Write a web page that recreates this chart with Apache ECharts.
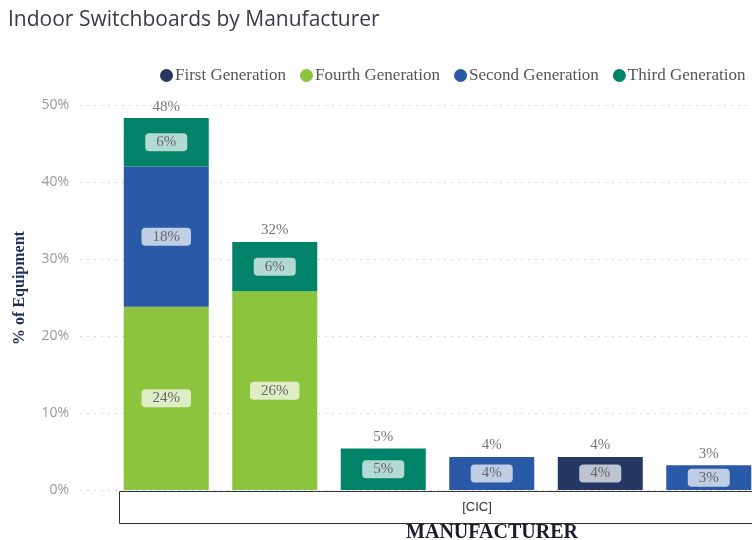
<!DOCTYPE html>
<html>
<head>
<meta charset="utf-8">
<script src="https://cdn.jsdelivr.net/npm/echarts@6/dist/echarts.min.js"></script>
<style>
  html, body { margin: 0; padding: 0; background: #fff; }
  #chart { width: 752px; height: 540px; }
</style>
</head>
<body>
<div id="chart"></div>
<script>
// manufacturers (names hidden in the original, all grouped under [CIC])
const categories = ['M1', 'M2', 'M3', 'M4', 'M5', 'M6'];
const firstGen  = [null, null, null, null, 4.3, null];
const fourthGen = [23.8, 25.8, null, null, null, null];
const secondGen = [18.2, null, null, 4.3, null, 3.2];
const thirdGen  = [6.3, 6.4, 5.4, null, null, null];
const totals    = [48, 32, 5, 4, 4, 3];
const yTicks    = [0, 10, 20, 30, 40, 50];

const colors = {
  first: '#253864',
  fourth: '#8cc43e',
  second: '#2a5aa7',
  third: '#008369'
};

const chart = echarts.init(document.getElementById('chart'));

const innerLabel = {
  show: true,
  position: 'inside',
  formatter: p => Math.round(p.value) + '%',
  fontFamily: 'Liberation Serif',
  fontSize: 15,
  color: '#666',
  backgroundColor: 'rgba(255,255,255,0.7)',
  borderRadius: 4,
  padding: [2, 11, 1, 11]
};

function genSeries(name, data, color) {
  return {
    name: name,
    type: 'bar',
    stack: 'gen',
    xAxisIndex: 0,
    yAxisIndex: 0,
    barWidth: 85,
    data: data,
    itemStyle: { color: color },
    label: innerLabel,
    emphasis: { disabled: true }
  };
}

const option = {
  animation: false,
  title: {
    text: 'Indoor Switchboards by Manufacturer',
    left: 3,
    top: 5,
    textStyle: {
      fontFamily: 'Open Sans',
      fontSize: 21,
      fontWeight: 'normal',
      color: '#3a3a4a'
    }
  },
  legend: {
    data: ['First Generation', 'Fourth Generation', 'Second Generation', 'Third Generation'],
    left: 155,
    top: 62,
    icon: 'circle',
    itemWidth: 13,
    itemHeight: 13,
    itemGap: 14,
    textStyle: {
      fontFamily: 'Liberation Serif',
      fontSize: 17,
      color: '#555',
      padding: [0, 0, 0, -3]
    }
  },
  grid: [
    { left: 112, right: -11, top: 105, bottom: 50, outerBoundsMode: 'none' },
    { left: 80, right: 0, top: 105, bottom: 50 }
  ],
  xAxis: [
    {
      type: 'category',
      gridIndex: 0,
      data: categories,
      axisLine: { show: false },
      axisTick: { show: false },
      axisLabel: { show: false }
    },
    {
      type: 'category',
      gridIndex: 1,
      data: [''],
      show: false
    }
  ],
  yAxis: [
    {
      type: 'value',
      gridIndex: 0,
      min: yTicks[0],
      max: yTicks[yTicks.length - 1],
      interval: 10,
      show: false
    },
    {
      type: 'value',
      gridIndex: 1,
      min: yTicks[0],
      max: yTicks[yTicks.length - 1],
      interval: 10,
      axisLine: { show: false },
      axisTick: { show: false },
      axisLabel: {
        formatter: '{value}%',
        fontFamily: 'Open Sans',
        fontSize: 14,
        color: '#999',
        margin: 11
      },
      splitLine: {
        lineStyle: { type: [2, 5], color: '#d6d6d6', width: 1 }
      }
    }
  ],
  graphic: [
    {
      type: 'text',
      x: 20,
      y: 288,
      rotation: Math.PI / 2,
      style: {
        text: '% of Equipment',
        font: 'bold 16px "Liberation Serif"',
        fill: '#1f2d5a',
        align: 'center',
        verticalAlign: 'middle'
      }
    },
    {
      type: 'rect',
      shape: { x: 119.5, y: 491.5, width: 720, height: 32 },
      style: { fill: '#fff', stroke: '#333', lineWidth: 1 }
    },
    {
      type: 'text',
      x: 477,
      y: 507,
      style: {
        text: '[CIC]',
        font: '13px "Liberation Sans"',
        fill: '#333',
        align: 'center',
        verticalAlign: 'middle'
      }
    },
    {
      type: 'text',
      x: 492,
      y: 533,
      style: {
        text: 'MANUFACTURER',
        font: 'bold 20px "Liberation Serif"',
        fill: '#1c1c2a',
        align: 'center',
        verticalAlign: 'middle'
      }
    }
  ],
  series: [
    genSeries('First Generation', firstGen, colors.first),
    genSeries('Fourth Generation', fourthGen, colors.fourth),
    genSeries('Second Generation', secondGen, colors.second),
    genSeries('Third Generation', thirdGen, colors.third),
    {
      name: 'Total',
      type: 'bar',
      stack: 'gen',
      barWidth: 85,
      data: totals.map(() => 0),
      itemStyle: { color: 'transparent' },
      label: {
        show: true,
        position: 'top',
        distance: 4,
        formatter: p => totals[p.dataIndex] + '%',
        fontFamily: 'Liberation Serif',
        fontSize: 15,
        color: '#777'
      },
      emphasis: { disabled: true }
    }
  ]
};

chart.setOption(option);
</script>
</body>
</html>
